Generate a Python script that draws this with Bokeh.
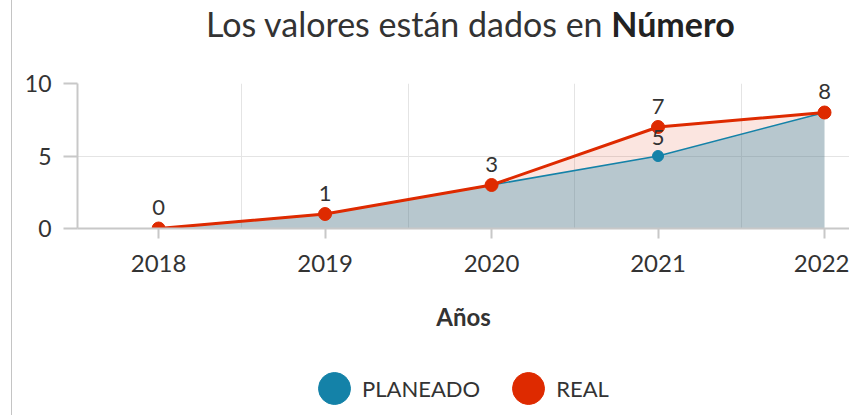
from bokeh.plotting import figure
from bokeh.layouts import column
from bokeh.models import (ColumnDataSource, FixedTicker, Legend, LegendItem, Range1d, Div)
from bokeh.core.properties import value
from bokeh.embed import file_html
from bokeh.resources import INLINE

years = [2018, 2019, 2020, 2021, 2022]
planeado = [0, 1, 3, 5, 8]
real = [0, 1, 3, 7, 8]
y_ticks = [0, 5, 10]
series_names = ["PLANEADO", "REAL"]
title_plain = "Los valores están dados en "
title_bold = "Número"
x_title = "Años"

RED = "#de2a00"
TEAL = "#1482a8"
FONT = "Lato"
TXT = "#333333"

src = ColumnDataSource(dict(
    x=years, plan=planeado, real=real,
    real_lbl=[str(v) for v in real],
))
diff_idx = [i for i in range(len(years)) if planeado[i] != real[i]]
src_pl = ColumnDataSource(dict(
    x=[years[i] for i in diff_idx],
    y=[planeado[i] for i in diff_idx],
    t=[str(planeado[i]) for i in diff_idx],
))

W = 837

title_div = Div(
    text=(f'<div style="font-family:{FONT};font-size:34px;line-height:40px;color:{TXT};'
          f'padding-left:194px;padding-top:4px;white-space:nowrap">'
          f'{title_plain}<b style="color:#222">{title_bold}</b></div>'),
    width=W, height=60, margin=0)

p = figure(width=W, height=290, output_backend="svg", toolbar_location=None,
           x_range=Range1d(2017.513, 2022.15), y_range=Range1d(0, 10),
           min_border_left=65, min_border_top=23, min_border_bottom=122,
           min_border_right=0, margin=0)
p.outline_line_color = None

# grids
p.xgrid.ticker = FixedTicker(ticks=[y + 0.5 for y in years[:-1]])
p.ygrid.ticker = FixedTicker(ticks=y_ticks)
for g in (p.xgrid, p.ygrid):
    g.grid_line_color = "#e4e4e4"
    g.grid_line_width = 1

# axes
p.xaxis.ticker = FixedTicker(ticks=years)
p.yaxis.ticker = FixedTicker(ticks=y_ticks)
for ax in (p.xaxis, p.yaxis):
    ax.axis_line_color = "#c8c8c8"
    ax.axis_line_width = 2
    ax.major_tick_line_color = "#c8c8c8"
    ax.major_tick_line_width = 2
    ax.major_tick_in = 0
    ax.minor_tick_line_color = None
    ax.major_label_text_font = FONT
    ax.major_label_text_color = TXT
p.xaxis.major_label_text_font_size = "24px"
p.yaxis.major_label_text_font_size = "23px"
p.xaxis.major_tick_out = 10
p.yaxis.major_tick_out = 14
p.xaxis.major_label_standoff = 16
p.yaxis.major_label_standoff = 12
p.xaxis.axis_label = x_title
p.xaxis.axis_label_text_font = FONT
p.xaxis.axis_label_text_font_style = "bold"
p.xaxis.axis_label_text_font_size = "24px"
p.xaxis.axis_label_text_color = TXT
p.xaxis.axis_label_standoff = 27

# areas
p.varea(x="x", y1=0, y2="plan", source=src, fill_color="#4b7384", fill_alpha=0.4)
p.varea(x="x", y1="plan", y2="real", source=src, fill_color=RED, fill_alpha=0.12)

# lines and points
p.line("x", "plan", source=src, line_color=TEAL, line_width=1.5)
p.scatter("x", "plan", source=src, size=11, fill_color=TEAL, line_color=TEAL)
p.line("x", "real", source=src, line_color=RED, line_width=3)
p.scatter("x", "real", source=src, size=13, fill_color=RED, line_color=RED)

# value labels
p.text("x", "y", text="t", source=src_pl, text_align="center", text_baseline="middle",
       y_offset=-19, text_font=value(FONT), text_font_size="22px", text_color=TXT)
p.text("x", "real", text="real_lbl", source=src, text_align="center", text_baseline="middle",
       y_offset=-21, text_font=value(FONT), text_font_size="22px", text_color=TXT)

# legend strip (its own small canvas so nothing is clipped)
lg = figure(width=W, height=65, output_backend="svg", toolbar_location=None,
            x_range=Range1d(0, 1), y_range=Range1d(0, 1),
            x_axis_location=None, y_axis_location=None, min_border=0, margin=0)
lg.grid.visible = False
lg.outline_line_color = None
# swatch renderers kept outside the visible range (only used for the legend)
sw_plan = lg.ellipse(x=[-10], y=[-10], width=32, height=32, width_units="screen",
                     height_units="screen", fill_color=TEAL, line_color=TEAL)
sw_real = lg.ellipse(x=[-10], y=[-10], width=32, height=32, width_units="screen",
                     height_units="screen", fill_color=RED, line_color=RED)
legend = Legend(items=[LegendItem(label=series_names[0], renderers=[sw_plan]),
                       LegendItem(label=series_names[1], renderers=[sw_real])],
                orientation="horizontal", location=(237, 7),
                glyph_width=40, glyph_height=40, label_standoff=8, spacing=28,
                padding=0, margin=0, border_line_color=None, background_fill_alpha=0,
                label_text_font=FONT, label_text_font_size="22px", label_text_color=TXT)
lg.add_layout(legend, "center")

layout = column(title_div, p, lg, spacing=0,
                styles={"border-left": "1px solid #c4c4c4", "margin-left": "11px"})

open("out.html", "w").write(file_html(layout, INLINE))
